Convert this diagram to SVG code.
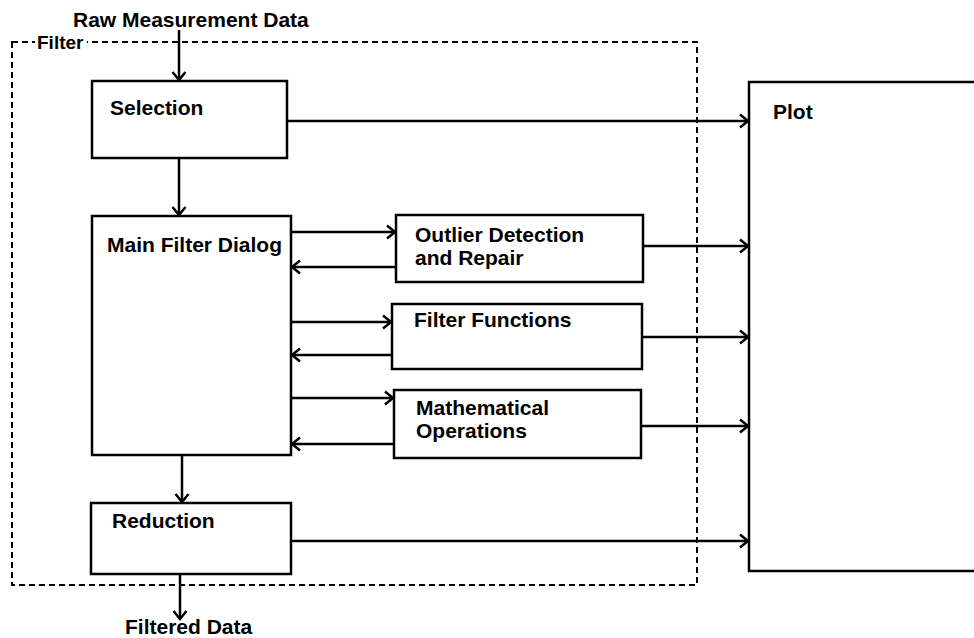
<svg xmlns="http://www.w3.org/2000/svg" width="974" height="638" viewBox="0 0 974 638">
  <style>
    text { font-family: "Liberation Sans", Arial, sans-serif; font-weight: bold; font-size: 21px; fill: #000; }
    .box { fill: #fff; stroke: #000; stroke-width: 2.5; }
    .conn { fill: none; stroke: #000; stroke-width: 2.5; }
    .frame { fill: none; stroke: #000; stroke-width: 2; stroke-dasharray: 6 4; }
  </style>
  <defs>
    <marker id="arrow" markerUnits="userSpaceOnUse" markerWidth="14" markerHeight="16" viewBox="0 0 14 16" refX="11" refY="8" orient="auto">
      <path d="M3,1.5 L11,8 L3,14.5" fill="none" stroke="#000" stroke-width="2.5"/>
    </marker>
  </defs>

  <g id="filter-frame">
    <rect class="frame" x="12" y="42" width="685" height="543"/>
    <rect x="35" y="34" width="52" height="16" fill="#fff"/>
    <text x="37" y="49" style="font-size:19px">Filter</text>
  </g>

  <g id="raw-data">
    <text x="73" y="27">Raw Measurement Data</text>
  </g>

  <g id="selection">
    <rect class="box" x="92" y="81" width="195" height="77"/>
    <text x="110" y="115">Selection</text>
  </g>

  <g id="main-filter-dialog">
    <rect class="box" x="92" y="216" width="199" height="239"/>
    <text x="107" y="252">Main Filter Dialog</text>
  </g>

  <g id="outlier">
    <rect class="box" x="396" y="215" width="247" height="67"/>
    <text x="415" y="242">Outlier Detection</text>
    <text x="415" y="265">and Repair</text>
  </g>

  <g id="filter-functions">
    <rect class="box" x="392" y="304" width="250" height="65"/>
    <text x="414" y="327">Filter Functions</text>
  </g>

  <g id="math-ops">
    <rect class="box" x="394" y="390" width="247" height="68"/>
    <text x="416" y="415">Mathematical</text>
    <text x="416" y="438">Operations</text>
  </g>

  <g id="reduction">
    <rect class="box" x="91" y="503" width="200" height="71"/>
    <text x="112" y="528">Reduction</text>
  </g>

  <g id="plot">
    <rect class="box" x="749" y="82" width="260" height="489"/>
    <text x="773" y="119">Plot</text>
  </g>

  <g id="filtered-data">
    <text x="125" y="634">Filtered Data</text>
  </g>

  <g id="connectors">
    <line class="conn" x1="179" y1="30" x2="179" y2="80" marker-end="url(#arrow)"/>
    <line class="conn" x1="179" y1="158" x2="179" y2="215" marker-end="url(#arrow)"/>
    <line class="conn" x1="287" y1="121" x2="748" y2="121" marker-end="url(#arrow)"/>
    <line class="conn" x1="291" y1="232" x2="395" y2="232" marker-end="url(#arrow)"/>
    <line class="conn" x1="396" y1="267" x2="292" y2="267" marker-end="url(#arrow)"/>
    <line class="conn" x1="291" y1="322" x2="391" y2="322" marker-end="url(#arrow)"/>
    <line class="conn" x1="392" y1="355" x2="292" y2="355" marker-end="url(#arrow)"/>
    <line class="conn" x1="291" y1="398" x2="393" y2="398" marker-end="url(#arrow)"/>
    <line class="conn" x1="394" y1="444" x2="292" y2="444" marker-end="url(#arrow)"/>
    <line class="conn" x1="643" y1="246" x2="748" y2="246" marker-end="url(#arrow)"/>
    <line class="conn" x1="642" y1="337" x2="748" y2="337" marker-end="url(#arrow)"/>
    <line class="conn" x1="641" y1="426" x2="748" y2="426" marker-end="url(#arrow)"/>
    <line class="conn" x1="182" y1="455" x2="182" y2="502" marker-end="url(#arrow)"/>
    <line class="conn" x1="291" y1="541" x2="748" y2="541" marker-end="url(#arrow)"/>
    <line class="conn" x1="180" y1="574" x2="180" y2="619" marker-end="url(#arrow)"/>
  </g>
</svg>
